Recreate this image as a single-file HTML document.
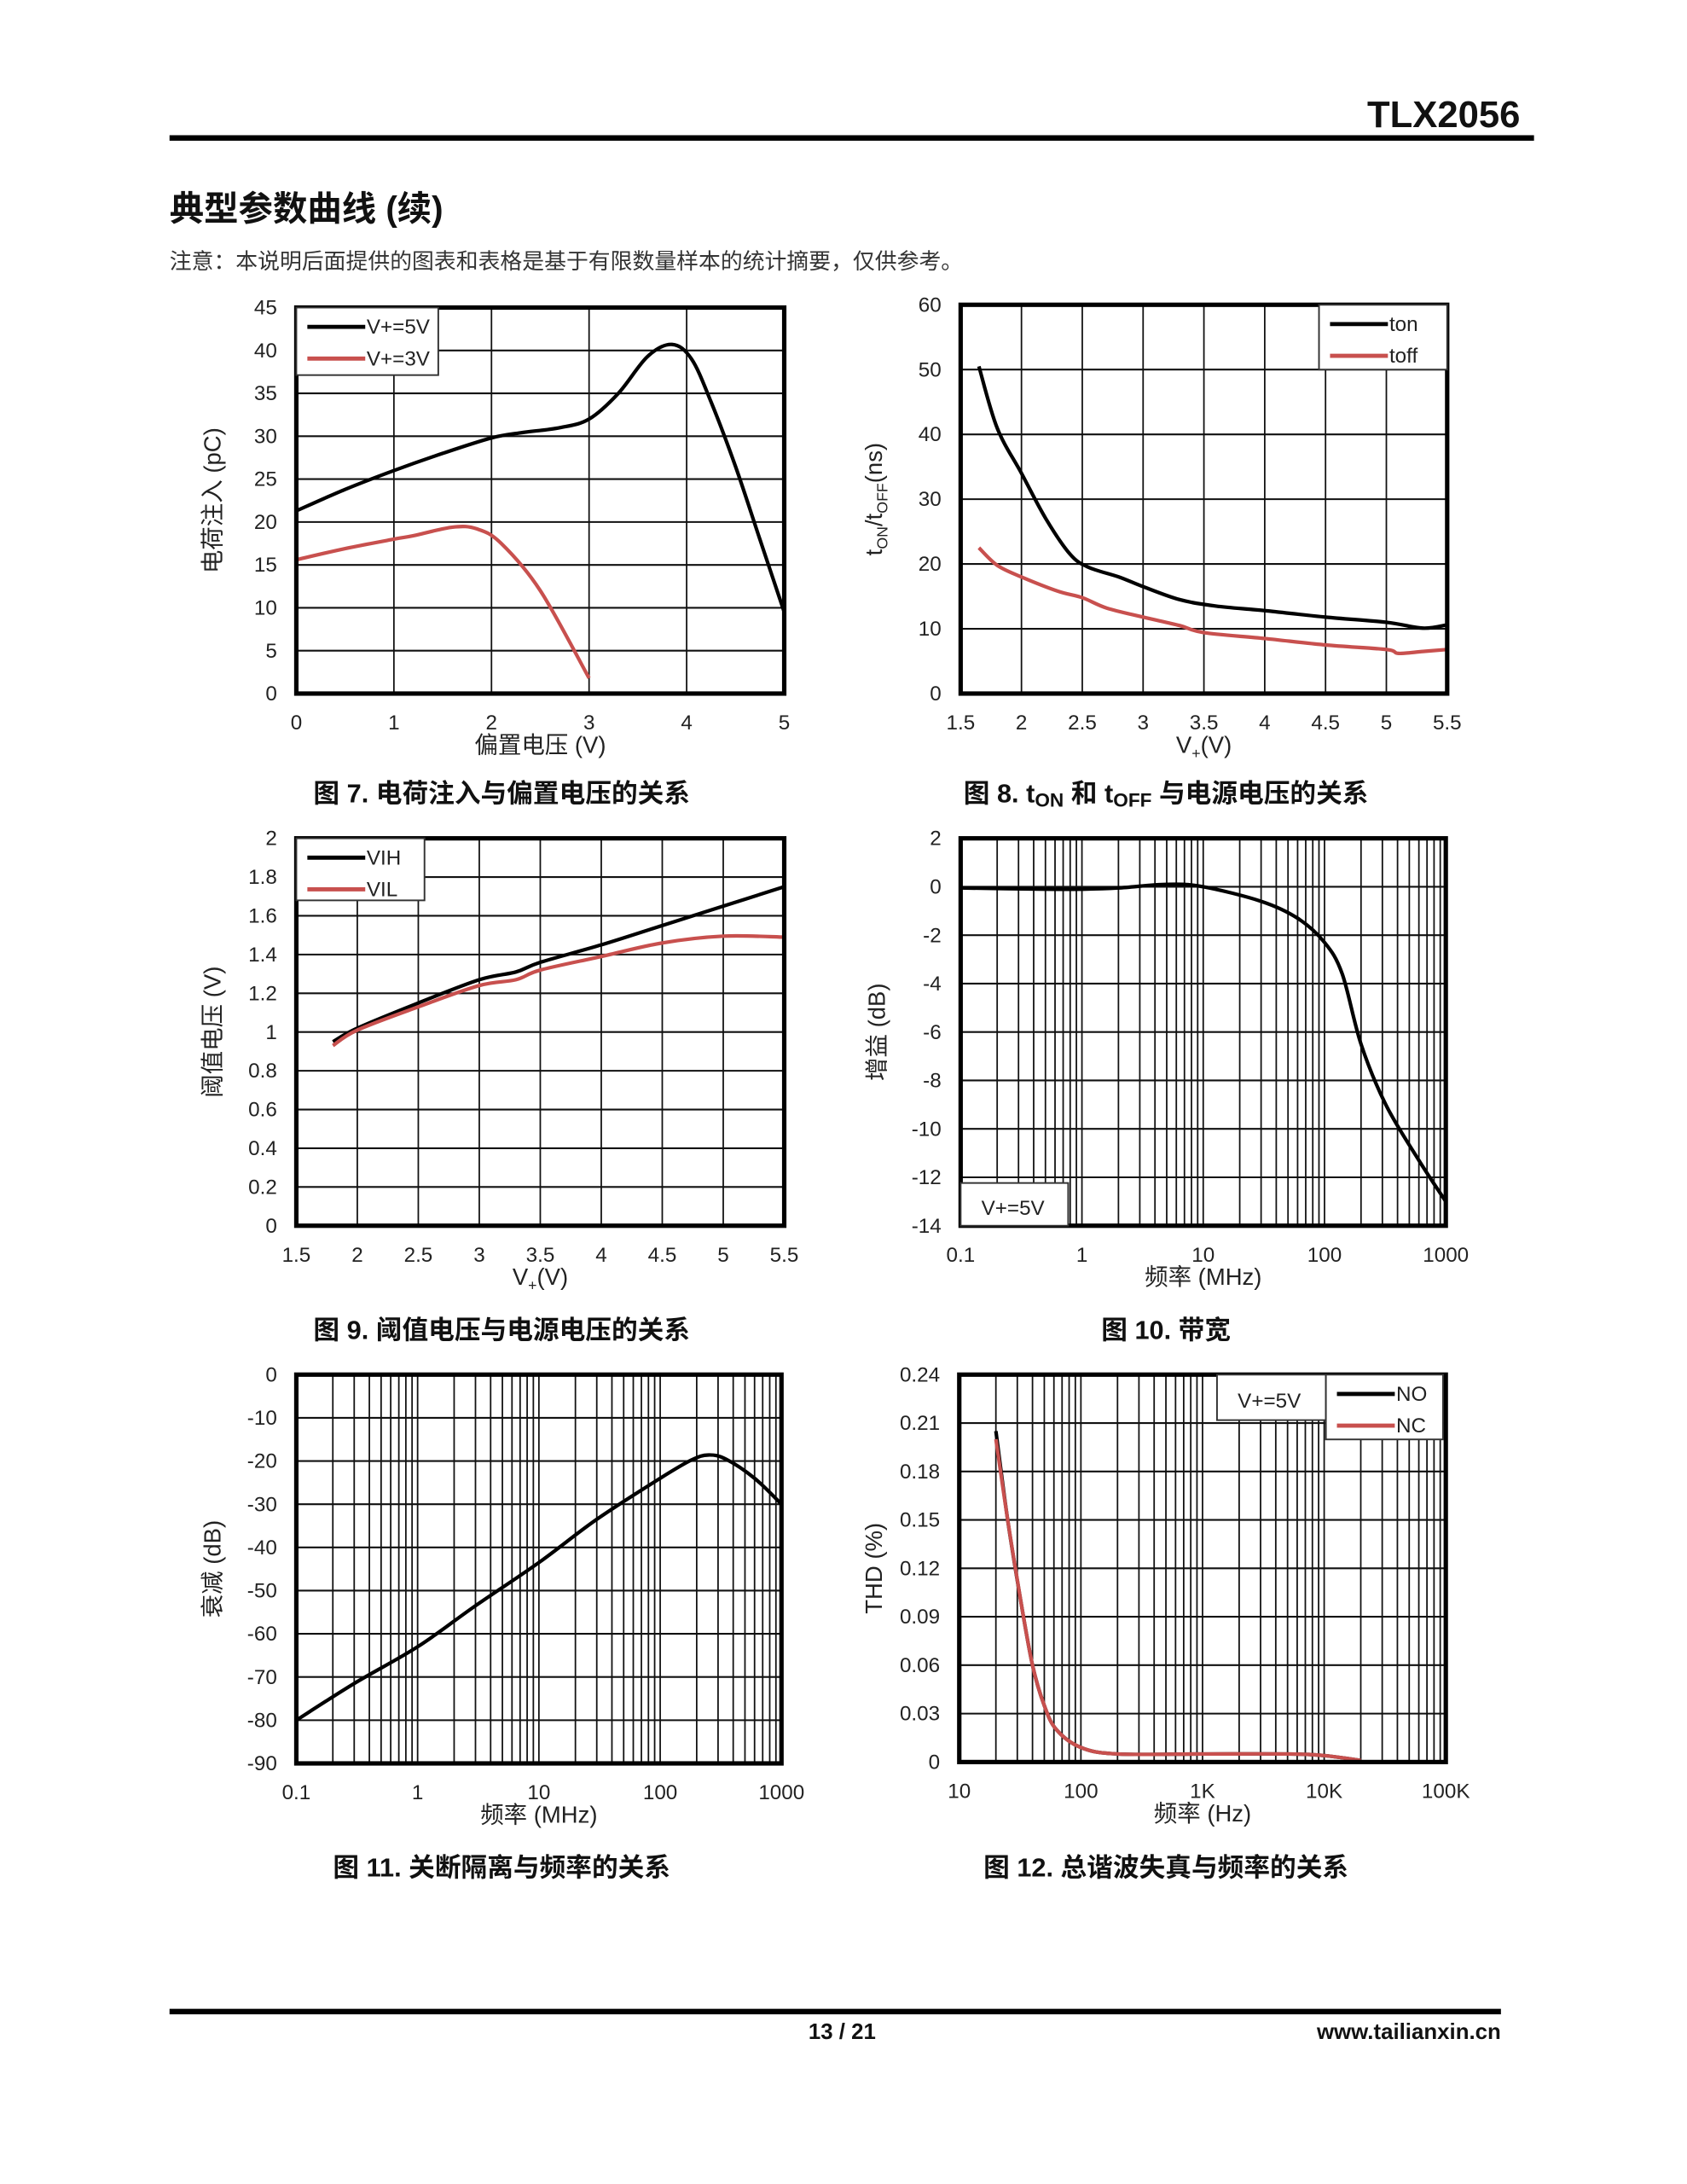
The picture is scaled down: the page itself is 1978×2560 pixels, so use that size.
<!DOCTYPE html>
<html><head><meta charset="utf-8">
<style>
html,body{margin:0;padding:0;background:#fff;}
svg{display:block;}
text{font-family:"Liberation Sans Narrow","Liberation Sans","Noto Sans CJK SC",sans-serif;fill:#222;}
.cj{font-family:"Liberation Sans","Noto Sans CJK SC",sans-serif;}
</style></head>
<body>
<svg id="s" width="1978" height="2560" viewBox="0 0 1224 1584" xmlns="http://www.w3.org/2000/svg">
<rect width="1224" height="1584" fill="#fff"/>
<text x="1103" y="92" text-anchor="end" font-size="27" font-weight="bold" fill="#111" style="fill:#111">TLX2056</text>
<rect x="123" y="98" width="990" height="4" fill="#000"/>
<text class="cj" x="123" y="160" font-size="25" font-weight="bold" style="fill:#111">典型参数曲线 (续)</text>
<text class="cj" x="123" y="195" font-size="16" style="fill:#333">注意：本说明后面提供的图表和表格是基于有限数量样本的统计摘要，仅供参考。</text>
<text class="cj" x="364" y="582" text-anchor="middle" font-size="19" font-weight="bold" style="fill:#111">图 7. 电荷注入与偏置电压的关系</text>
<text class="cj" x="846" y="582" text-anchor="middle" font-size="19" font-weight="bold" style="fill:#111">图 8. t<tspan font-size="14" dy="3">ON</tspan><tspan dy="-3"> 和 t</tspan><tspan font-size="14" dy="3">OFF</tspan><tspan dy="-3"> 与电源电压的关系</tspan></text>
<text class="cj" x="364" y="971" text-anchor="middle" font-size="19" font-weight="bold" style="fill:#111">图 9. 阈值电压与电源电压的关系</text>
<text class="cj" x="846" y="971" text-anchor="middle" font-size="19" font-weight="bold" style="fill:#111">图 10. 带宽</text>
<text class="cj" x="364" y="1361" text-anchor="middle" font-size="19" font-weight="bold" style="fill:#111">图 11. 关断隔离与频率的关系</text>
<text class="cj" x="846" y="1361" text-anchor="middle" font-size="19" font-weight="bold" style="fill:#111">图 12. 总谐波失真与频率的关系</text>
<rect x="123" y="1457" width="966" height="4" fill="#000"/>
<text x="611" y="1479" text-anchor="middle" font-size="16" font-weight="bold" style="fill:#111">13 / 21</text>
<text x="1089" y="1479" text-anchor="end" font-size="16" font-weight="bold" style="fill:#111">www.tailianxin.cn</text>
<g id="g"></g>
</svg>
<script>
const NS="http://www.w3.org/2000/svg";const G=document.getElementById('g');
function el(t,a,txt){const e=document.createElementNS(NS,t);for(const k in a)e.setAttribute(k,a[k]);if(txt!=null)e.textContent=txt;G.appendChild(e);return e;}
function smooth(p){let d="M"+p[0][0]+","+p[0][1];for(let i=0;i<p.length-1;i++){const p0=p[i-1]||p[i],p1=p[i],p2=p[i+1],p3=p[i+2]||p2;
const c1=[p1[0]+(p2[0]-p0[0])/6,p1[1]+(p2[1]-p0[1])/6],c2=[p2[0]-(p3[0]-p1[0])/6,p2[1]-(p3[1]-p1[1])/6];
d+=" C"+c1+" "+c2+" "+p2;}return d;}
function chart(o){
 const {x0,x1,y0,y1}=o;
 const X=v=>o.log?x0+(Math.log10(v)-Math.log10(o.xmin))/(Math.log10(o.xmax)-Math.log10(o.xmin))*(x1-x0):x0+(v-o.xmin)/(o.xmax-o.xmin)*(x1-x0);
 const Y=v=>y1-(v-o.ymin)/(o.ymax-o.ymin)*(y1-y0);
 if(o.log){let d=o.xmin;while(d<o.xmax-1e-9){for(let k=1;k<10;k++){const v=d*k;if(v>o.xmin&&v<o.xmax)el('line',{x1:X(v),x2:X(v),y1:y0,y2:y1,stroke:'#111','stroke-width':1.1});}d*=10;}}
 else{for(let v=o.xmin;v<=o.xmax+1e-9;v+=o.xstep)el('line',{x1:X(v),x2:X(v),y1:y0,y2:y1,stroke:'#111','stroke-width':1.1});}
 for(let i=0;i<=o.ny;i++){const v=o.ymin+i*(o.ymax-o.ymin)/o.ny;el('line',{x1:x0,x2:x1,y1:Y(v),y2:Y(v),stroke:'#111','stroke-width':1.3});
  el('text',{x:x0-14,y:Y(v)+5,'text-anchor':'end','font-size':15},o.ylab[i]);}
 o.xlab.forEach(l=>el('text',{x:X(l[0]),y:y1+26,'text-anchor':'middle','font-size':15},l[1]));
 o.series.forEach(s=>el('path',{d:smooth(s.pts.map(p=>[X(p[0]),Y(p[1])])),fill:'none',stroke:s.c,'stroke-width':2.6,'stroke-linejoin':'round'}));
 el('rect',{x:x0,y:y0,width:x1-x0,height:y1-y0,fill:'none',stroke:'#000','stroke-width':3.2});
 const xt=el('text',{x:(x0+x1)/2,y:y1+43,'text-anchor':'middle','font-size':17,class:'cj'});xt.innerHTML=o.xt;
 const yt=el('text',{transform:`translate(${o.ytx},${(y0+y1)/2}) rotate(-90)`,'text-anchor':'middle','font-size':17,class:'cj'});yt.innerHTML=o.yt;
 if(o.extra)o.extra();
}
function legend(x,y,w,h,items,lx){el('rect',{x,y,width:w,height:h,fill:'#fff',stroke:'#333','stroke-width':1.2});
 items.forEach((it,i)=>{const yy=y+14+i*23;el('line',{x1:x+8,x2:x+lx,y1:yy,y2:yy,stroke:it[1],'stroke-width':3});el('text',{x:x+lx+1,y:yy+5,'font-size':15},it[0]);});}
const R='#c8504e',K='#000';
chart({x0:215,x1:569,y0:223,y1:503,xmin:0,xmax:5,xstep:1,ymin:0,ymax:45,ny:9,ylab:['0','5','10','15','20','25','30','35','40','45'],
 xlab:[[0,'0'],[1,'1'],[2,'2'],[3,'3'],[4,'4'],[5,'5']],xt:'偏置电压 (V)',yt:'电荷注入 (pC)',ytx:160,
 series:[{c:K,pts:[[0,21.3],[0.5,23.8],[1,26],[1.5,28],[2,29.8],[2.3,30.4],[2.7,31],[3,32],[3.3,35],[3.6,39.3],[3.85,40.7],[4.05,39],[4.25,34],[4.5,26.5],[4.75,18],[5,9.5]]},
 {c:R,pts:[[0,15.6],[0.5,16.9],[1,18],[1.2,18.4],[1.6,19.4],[1.85,19.2],[2.1,17.5],[2.5,12],[3,1.8]]}],
 extra:()=>legend(215,223,103,49,[['V+=5V',K],['V+=3V',R]],50)});
chart({x0:697,x1:1050,y0:221,y1:503,xmin:1.5,xmax:5.5,xstep:0.5,ymin:0,ymax:60,ny:6,ylab:['0','10','20','30','40','50','60'],
 xlab:[[1.5,'1.5'],[2,'2'],[2.5,'2.5'],[3,'3'],[3.5,'3.5'],[4,'4'],[4.5,'4.5'],[5,'5'],[5.5,'5.5']],xt:'V<tspan font-size="11" dy="4">+</tspan><tspan dy="-4">(V)</tspan>',
 yt:'t<tspan font-size="11" dy="4">ON</tspan><tspan dy="-4">/t</tspan><tspan font-size="11" dy="4">OFF</tspan><tspan dy="-4">(ns)</tspan>',ytx:640,
 series:[{c:K,pts:[[1.65,50.5],[1.8,41],[2,34],[2.2,27],[2.4,21.5],[2.55,19.5],[2.8,18],[3,16.5],[3.3,14.5],[3.6,13.5],[4,12.8],[4.5,11.8],[5,11],[5.3,10.1],[5.5,10.6]]},
 {c:R,pts:[[1.65,22.5],[1.8,19.8],[2,18],[2.3,15.8],[2.5,14.8],[2.7,13.2],[3,11.8],[3.3,10.5],[3.5,9.4],[4,8.5],[4.5,7.5],[5,6.8],[5.1,6.2],[5.3,6.5],[5.5,6.8]]}],
 extra:()=>legend(957,221,93,47,[['ton',K],['toff',R]],50)});
chart({x0:215,x1:569,y0:608,y1:889,xmin:1.5,xmax:5.5,xstep:0.5,ymin:0,ymax:2,ny:10,ylab:['0','0.2','0.4','0.6','0.8','1','1.2','1.4','1.6','1.8','2'],
 xlab:[[1.5,'1.5'],[2,'2'],[2.5,'2.5'],[3,'3'],[3.5,'3.5'],[4,'4'],[4.5,'4.5'],[5,'5'],[5.5,'5.5']],xt:'V<tspan font-size="11" dy="4">+</tspan><tspan dy="-4">(V)</tspan>',yt:'阈值电压 (V)',ytx:160,
 series:[{c:K,pts:[[1.8,0.95],[2,1.02],[2.5,1.15],[3,1.27],[3.3,1.31],[3.5,1.36],[4,1.45],[4.5,1.55],[5,1.65],[5.5,1.75]]},
 {c:R,pts:[[1.8,0.93],[2,1.01],[2.5,1.13],[3,1.24],[3.3,1.27],[3.5,1.32],[4,1.39],[4.5,1.46],[5,1.495],[5.5,1.49]]}],
 extra:()=>legend(215,608,93,45,[['VIH',K],['VIL',R]],50)});
chart({x0:697,x1:1049,y0:608,y1:889,log:1,xmin:0.1,xmax:1000,ymin:-14,ymax:2,ny:8,ylab:['-14','-12','-10','-8','-6','-4','-2','0','2'],
 xlab:[[0.1,'0.1'],[1,'1'],[10,'10'],[100,'100'],[1000,'1000']],xt:'频率 (MHz)',yt:'增益 (dB)',ytx:642,
 series:[{c:K,pts:[[0.1,-0.05],[0.5,-0.1],[1,-0.1],[2,-0.05],[5,0.1],[10,0],[30,-0.6],[60,-1.3],[100,-2.3],[140,-3.6],[200,-6.5],[320,-9],[600,-11.3],[1000,-13]]}],
 extra:()=>{el('rect',{x:697,y:858,width:78,height:31,fill:'#fff',stroke:'#333','stroke-width':1.2});el('text',{x:712,y:881,'font-size':15},'V+=5V');}});
chart({x0:215,x1:567,y0:997,y1:1279,log:1,xmin:0.1,xmax:1000,ymin:-90,ymax:0,ny:9,ylab:['-90','-80','-70','-60','-50','-40','-30','-20','-10','0'],
 xlab:[[0.1,'0.1'],[1,'1'],[10,'10'],[100,'100'],[1000,'1000']],xt:'频率 (MHz)',yt:'衰减 (dB)',ytx:160,
 series:[{c:K,pts:[[0.1,-80],[0.3,-71.5],[1,-63],[3,-53.5],[10,-43.5],[30,-33.5],[100,-24],[180,-19.8],[250,-18.6],[350,-19.6],[600,-24],[1000,-30]]}]});
chart({x0:696,x1:1049,y0:997,y1:1278,log:1,xmin:10,xmax:100000,ymin:0,ymax:0.24,ny:8,ylab:['0','0.03','0.06','0.09','0.12','0.15','0.18','0.21','0.24'],
 xlab:[[10,'10'],[100,'100'],[1000,'1K'],[10000,'10K'],[100000,'100K']],xt:'频率 (Hz)',yt:'THD (%)',ytx:640,
 series:[{c:K,pts:[[20,0.205],[25,0.15],[32,0.1],[40,0.06],[50,0.035],[63,0.02],[100,0.009],[200,0.005],[1000,0.005],[5000,0.005],[10000,0.004],[20000,0.001]]},
 {c:R,pts:[[20,0.2],[25,0.15],[32,0.1],[40,0.06],[50,0.035],[63,0.02],[100,0.009],[200,0.005],[1000,0.005],[5000,0.005],[10000,0.004],[20000,0.001]]}],
 extra:()=>{el('rect',{x:883,y:997,width:79,height:33,fill:'#fff',stroke:'#333','stroke-width':1.2});el('text',{x:898,y:1021,'font-size':15},'V+=5V');
  legend(962,997,85,47,[['NO',K],['NC',R]],50);}});
</script>
</body></html>
